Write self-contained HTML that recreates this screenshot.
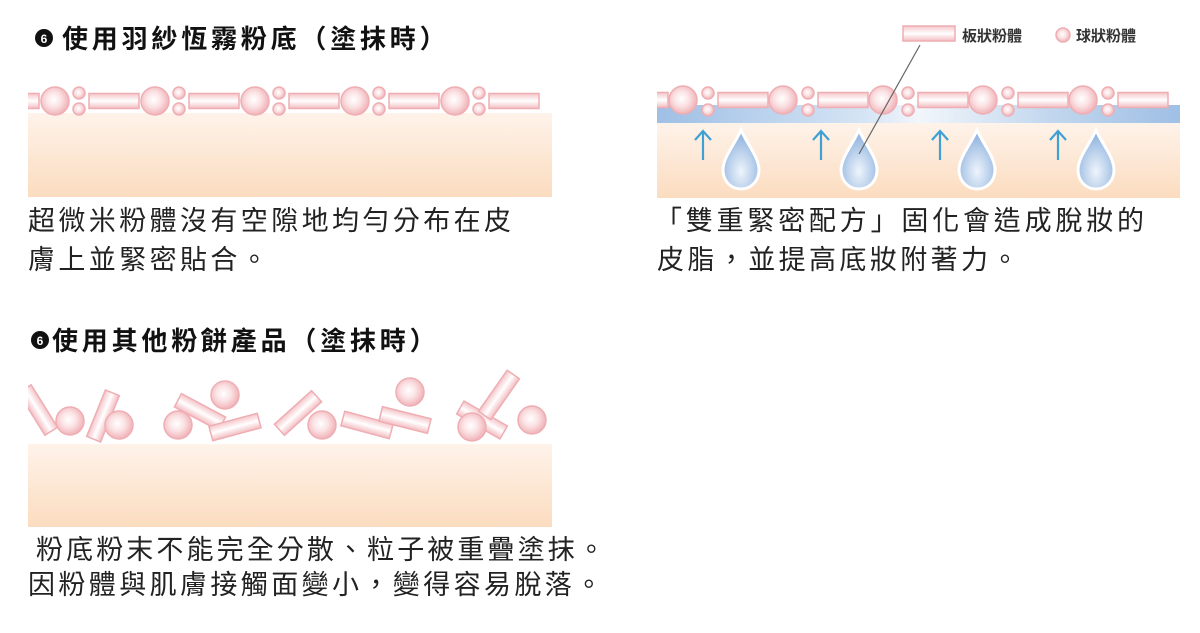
<!DOCTYPE html>
<html><head><meta charset="utf-8"><style>
html,body{margin:0;padding:0;background:#fff;}
svg text{font-family:"Liberation Sans","Noto Sans CJK TC",sans-serif;fill:#222;}
.t{font-size:27px;letter-spacing:3.4px;}
.h{font-size:26px;letter-spacing:3.8px;font-weight:bold;fill:#111;}
</style></head><body>
<svg width="1200" height="628" viewBox="0 0 1200 628" xmlns="http://www.w3.org/2000/svg">
<defs>
<radialGradient id="pc" cx="0.45" cy="0.45" r="0.6"><stop offset="0" stop-color="#fff"/><stop offset="0.45" stop-color="#fbe2e4"/><stop offset="1" stop-color="#eeaab0"/></radialGradient>
<linearGradient id="pr" x1="0" y1="0" x2="0" y2="1"><stop offset="0" stop-color="#f5c4c8"/><stop offset="0.5" stop-color="#fff"/><stop offset="1" stop-color="#f3bcc1"/></linearGradient>
<linearGradient id="skin" x1="0" y1="0" x2="0" y2="1"><stop offset="0" stop-color="#fef3ea"/><stop offset="1" stop-color="#fbdcbf"/></linearGradient>
<linearGradient id="blue" x1="0" y1="0" x2="1" y2="0"><stop offset="0" stop-color="#9fbfe5"/><stop offset="0.4" stop-color="#d6e5f5"/><stop offset="0.5" stop-color="#f2f6fb"/><stop offset="0.75" stop-color="#c2d7ee"/><stop offset="1" stop-color="#9fbfe5"/></linearGradient>
<radialGradient id="drop" cx="0.5" cy="0.7" r="0.6"><stop offset="0" stop-color="#eef4fb"/><stop offset="1" stop-color="#94b6e0"/></radialGradient>
<g id="C"><circle r="14" fill="url(#pc)" stroke="#eeaeb3" stroke-width="1.5"/></g>
<g id="s"><circle r="6" fill="url(#pc)" stroke="#eeaeb3" stroke-width="1.5"/></g>
<g id="R"><rect x="-25" y="-7.5" width="50" height="15" fill="url(#pr)" stroke="#eeaeb3" stroke-width="1.5"/></g>
<g id="D"><path d="M0,-32 C6,-18 18,-5 18,8 C18,19 10,27 0,27 C-10,27 -18,19 -18,8 C-18,-5 -6,-18 0,-32Z" fill="url(#drop)" stroke="#fff" stroke-width="3"/></g>
<g id="A"><path d="M0,30 V2 M-8,10 L0,1 L8,10" fill="none" stroke="#3fa0d6" stroke-width="2.2"/></g>
<clipPath id="c1"><rect x="28" y="70" width="524" height="140"/></clipPath>
<clipPath id="c2"><rect x="657" y="70" width="523" height="140"/></clipPath>
<clipPath id="c3"><rect x="28" y="360" width="524" height="170"/></clipPath>
</defs>

<circle cx="44" cy="38" r="9" fill="#111"/><text x="44" y="43" font-size="12" font-weight="bold" text-anchor="middle" style="fill:#fff">6</text>
<text x="62" y="48" class="h">使用羽紗恆霧粉底（塗抹時）</text>

<g clip-path="url(#c1)">
<rect x="28" y="113" width="524" height="84" fill="url(#skin)"/>
<use href="#R" x="14" y="101"/>
<use href="#C" x="55" y="101"/><use href="#s" x="79" y="93"/><use href="#s" x="79" y="109"/><use href="#R" x="114" y="101"/>
<use href="#C" x="155" y="101"/><use href="#s" x="179" y="93"/><use href="#s" x="179" y="109"/><use href="#R" x="214" y="101"/>
<use href="#C" x="255" y="101"/><use href="#s" x="279" y="93"/><use href="#s" x="279" y="109"/><use href="#R" x="314" y="101"/>
<use href="#C" x="355" y="101"/><use href="#s" x="379" y="93"/><use href="#s" x="379" y="109"/><use href="#R" x="414" y="101"/>
<use href="#C" x="455" y="101"/><use href="#s" x="479" y="93"/><use href="#s" x="479" y="109"/><use href="#R" x="514" y="101"/>
</g>
<text x="28" y="230" class="t">超微米粉體沒有空隙地均勻分布在皮</text>
<text x="28" y="269" class="t">膚上並緊密貼合。</text>

<rect x="903" y="26" width="52" height="15" fill="url(#pr)" stroke="#eeaeb3" stroke-width="1.5"/>
<text x="962" y="41" font-size="15" font-weight="bold" style="fill:#333">板狀粉體</text>
<circle cx="1063" cy="35" r="7" fill="url(#pc)" stroke="#eeaeb3" stroke-width="1.5"/>
<text x="1076" y="41" font-size="15" font-weight="bold" style="fill:#333">球狀粉體</text>

<g clip-path="url(#c2)">
<rect x="657" y="123" width="523" height="75" fill="url(#skin)"/>
<rect x="657" y="105" width="523" height="18" fill="url(#blue)"/>
<use href="#R" x="643" y="100"/>
<use href="#C" x="683" y="100"/><use href="#s" x="708" y="93"/><use href="#s" x="708" y="110"/><use href="#R" x="743" y="100"/>
<use href="#C" x="783" y="100"/><use href="#s" x="808" y="93"/><use href="#s" x="808" y="110"/><use href="#R" x="843" y="100"/>
<use href="#C" x="883" y="100"/><use href="#s" x="908" y="93"/><use href="#s" x="908" y="110"/><use href="#R" x="943" y="100"/>
<use href="#C" x="983" y="100"/><use href="#s" x="1008" y="93"/><use href="#s" x="1008" y="110"/><use href="#R" x="1043" y="100"/>
<use href="#C" x="1083" y="100"/><use href="#s" x="1108" y="93"/><use href="#s" x="1108" y="110"/><use href="#R" x="1143" y="100"/>
<use href="#A" x="703" y="130"/><use href="#A" x="821" y="130"/><use href="#A" x="940" y="130"/><use href="#A" x="1058" y="130"/>
<use href="#D" x="741" y="162"/><use href="#D" x="859" y="162"/><use href="#D" x="977" y="162"/><use href="#D" x="1096" y="162"/>
</g>
<line x1="920" y1="45" x2="859" y2="154" stroke="#666" stroke-width="1.2"/>
<text x="655" y="230" class="t" style="letter-spacing:3.8px">「雙重緊密配方」固化會造成脫妝的</text>
<text x="657" y="269" class="t">皮脂，並提高底妝附著力。</text>

<circle cx="40" cy="340" r="9" fill="#111"/><text x="40" y="345" font-size="12" font-weight="bold" text-anchor="middle" style="fill:#fff">6</text>
<text x="52" y="350" class="h">使用其他粉餅產品（塗抹時）</text>

<rect x="28" y="444" width="524" height="83" fill="url(#skin)"/>
<g clip-path="url(#c3)">
<use href="#R" transform="translate(38,410) rotate(58)"/>
<use href="#C" x="70" y="421"/>
<use href="#R" transform="translate(103,416) rotate(-68)"/>
<use href="#C" x="119" y="425"/>
<use href="#R" transform="translate(200,412) rotate(28)"/>
<use href="#C" x="178" y="425"/>
<use href="#C" x="225" y="395"/>
<use href="#R" transform="translate(235,427) rotate(-15)"/>
<use href="#R" transform="translate(298,413) rotate(-42)"/>
<use href="#C" x="322" y="425"/>
<use href="#R" transform="translate(367,425) rotate(15)"/>
<use href="#R" transform="translate(405,420) rotate(14)"/>
<use href="#C" x="410" y="392"/>
<use href="#R" transform="translate(482,420) rotate(30)"/>
<use href="#R" transform="translate(499,395) rotate(-55)"/>
<use href="#C" x="472" y="427"/>
<use href="#C" x="532" y="420"/>
</g>
<text x="36" y="559" class="t" style="letter-spacing:3.1px">粉底粉末不能完全分散、粒子被重疊塗抹。</text>
<text x="28" y="594" class="t">因粉體與肌膚接觸面變小，變得容易脫落。</text>
</svg>
</body></html>
